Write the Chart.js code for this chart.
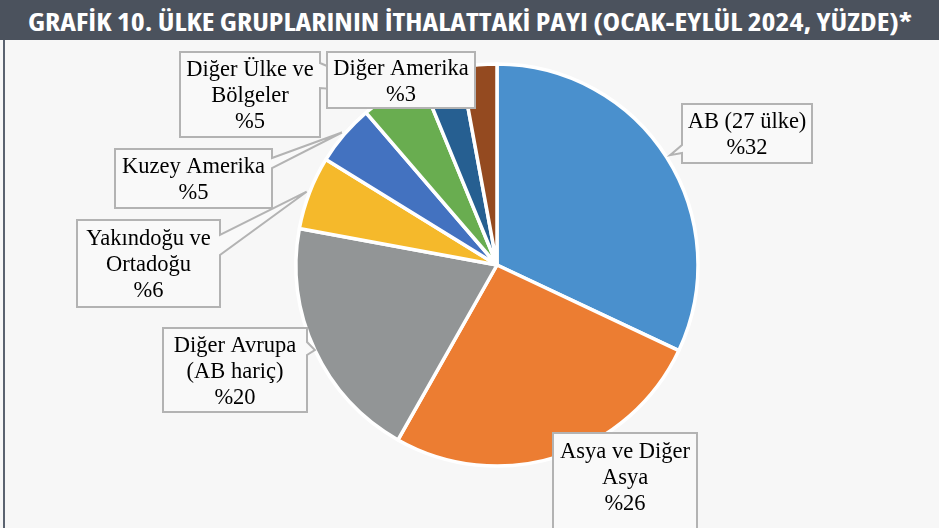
<!DOCTYPE html>
<html><head><meta charset="utf-8">
<script src="https://cdn.jsdelivr.net/npm/chart.js@4.4.1/dist/chart.umd.min.js"></script>
<style>
html,body{margin:0;padding:0;background:#f7f7f7;width:939px;height:528px;overflow:hidden;}
#wrap{position:absolute;left:0;top:0;width:939px;height:528px;}
#title{position:absolute;left:0;top:0;width:939px;height:40px;background:#4b525d;overflow:hidden;}
#tt{position:absolute;left:50%;top:52%;white-space:nowrap;color:#fff;font-family:"Open Sans",sans-serif;font-weight:700;font-size:25px;line-height:1;font-stretch:condensed;}
#edge{position:absolute;left:3px;top:40px;width:2px;height:488px;background:#5b6370;}
</style></head>
<body>
<div id="wrap"><canvas id="c" width="939" height="528"></canvas></div>
<div id="title"><span id="tt">GRAFİK 10. ÜLKE GRUPLARININ İTHALATTAKİ PAYI (OCAK-EYLÜL 2024, YÜZDE)*</span></div>
<div id="edge"></div>
<script>
// ---- data ----
const categories = ["AB (27 ülke)", "Asya ve Diğer Asya", "Diğer Avrupa (AB hariç)", "Yakındoğu ve Ortadoğu", "Kuzey Amerika", "Diğer Ülke ve Bölgeler", "Diğer Amerika", "Diğer"];
const values = [32.0, 26.2, 19.7, 5.9, 4.9, 5.1, 3.3, 2.9];
const labelLines = [["AB (27 ülke)"], ["Asya ve Diğer", "Asya"], ["Diğer Avrupa", "(AB hariç)"], ["Yakındoğu ve", "Ortadoğu"], ["Kuzey Amerika"], ["Diğer Ülke ve", "Bölgeler"], ["Diğer Amerika"], null];
const colors = ["#4a90cd", "#ec7d32", "#929596", "#f5b92b", "#4372c0", "#69ad50", "#265f91", "#944a20"];

// title fit
const tt = document.getElementById('tt');
const w = tt.getBoundingClientRect().width;
tt.style.transform = 'translate(-50%,-50%) scaleX(' + (884 / w) + ')';

// callout layout (box left, top, width, height; pointer side & base offsets)
const boxes = [
  {index: 0, L: 682, T: 104, W: 130, H: 59, side: 'left', p0: 41, p1: 49, gap: 4},
  {index: 1, L: 553, T: 433, W: 144, H: 120, cy: 478},
  {index: 2, L: 163, T: 328, W: 144, H: 84, side: 'right', p0: 14, p1: 27, gap: 0},
  {index: 3, L: 77, T: 220, W: 143, H: 87, side: 'right', p0: 15, p1: 35, gap: 3},
  {index: 4, L: 115, T: 149, W: 157, H: 59, side: 'right', p0: 9, p1: 19, gap: 3},
  {index: 5, L: 180, T: 52, W: 140, H: 85, side: 'right', p0: 11, p1: 36, gap: 0},
  {index: 6, L: 327, T: 52, W: 148, H: 56}
];

const calloutPlugin = {
  id: 'callouts',
  afterDatasetsDraw(chart, args, opts) {
    const ctx = chart.ctx;
    const meta = chart.getDatasetMeta(0);
    opts.boxes.forEach(b => {
      const arc = meta.data[b.index];
      const p = arc.getProps(['x', 'y', 'startAngle', 'endAngle', 'outerRadius'], true);
      const mid = (p.startAngle + p.endAngle) / 2;
      const r = p.outerRadius + (b.gap || 0);
      const tip = {x: p.x + Math.cos(mid) * r, y: p.y + Math.sin(mid) * r};
      const L = b.L, T = b.T, R = b.L + b.W, B = b.T + b.H;
      const pts = [[L, T]];
      if (b.side === 'top') pts.push([L + b.p0, T], [tip.x, tip.y], [L + b.p1, T]);
      pts.push([R, T]);
      if (b.side === 'right') pts.push([R, T + b.p0], [tip.x, tip.y], [R, T + b.p1]);
      pts.push([R, B]);
      if (b.side === 'bottom') pts.push([L + b.p1, B], [tip.x, tip.y], [L + b.p0, B]);
      pts.push([L, B]);
      if (b.side === 'left') pts.push([L, T + b.p1], [tip.x, tip.y], [L, T + b.p0]);
      ctx.save();
      ctx.beginPath();
      pts.forEach((q, i) => i ? ctx.lineTo(q[0], q[1]) : ctx.moveTo(q[0], q[1]));
      ctx.closePath();
      ctx.fillStyle = opts.fill;
      ctx.fill();
      ctx.lineWidth = 2;
      ctx.strokeStyle = opts.stroke;
      ctx.lineJoin = 'miter';
      ctx.stroke();
      const lines = labelLines[b.index].concat(['%' + Math.round(values[b.index])]);
      const lh = 26;
      const cy = b.cy !== undefined ? b.cy : (T + B) / 2 + 2;
      const cx = (L + R) / 2;
      ctx.fillStyle = '#000';
      ctx.font = '22.5px "Liberation Serif", "Times New Roman", serif';
      ctx.textAlign = 'center';
      ctx.textBaseline = 'middle';
      lines.forEach((s, i) => {
        ctx.fillText(s, cx, cy + (i - (lines.length - 1) / 2) * lh);
      });
      ctx.restore();
    });
  }
};

new Chart(document.getElementById('c'), {
  type: 'pie',
  data: {
    labels: categories,
    datasets: [{
      data: values,
      backgroundColor: colors,
      borderColor: '#ffffff',
      borderWidth: 3.5
    }]
  },
  options: {
    responsive: false,
    animation: false,
    radius: 201,
    layout: {padding: {left: 55, right: 0, top: 42, bottom: 40}},
    plugins: {
      legend: {display: false},
      tooltip: {enabled: false},
      title: {display: false},
      callouts: {boxes: boxes, fill: '#f9f9f9', stroke: '#b3b3b3'}
    }
  },
  plugins: [calloutPlugin]
});
</script>
</body></html>
